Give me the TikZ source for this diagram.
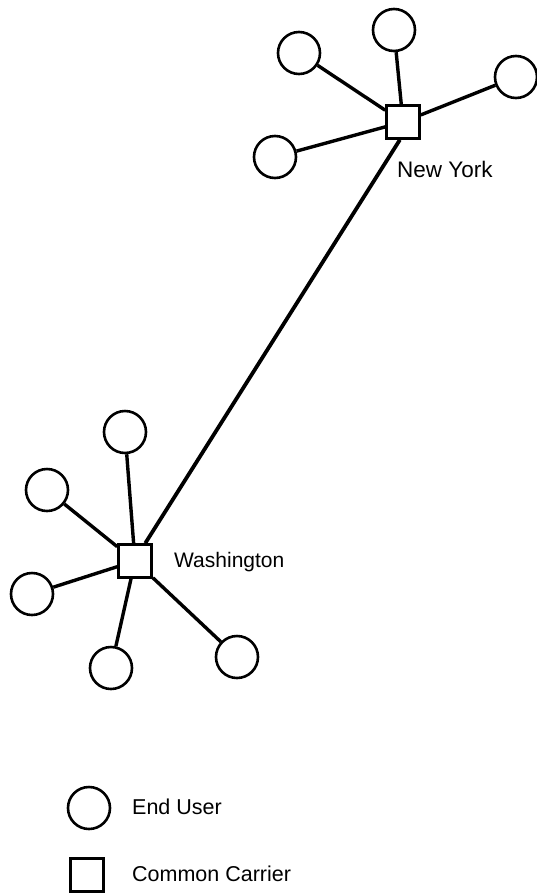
\documentclass[tikz,border=0pt]{standalone}
\usepackage{fontspec}
\setmainfont{Liberation Sans}
\begin{document}
\begin{tikzpicture}[x=1pt,y=-1pt,
  user/.style={circle,draw,line width=2.6pt,minimum size=42pt,inner sep=0pt},
  carrier/.style={rectangle,draw,line width=2.6pt,minimum size=33pt,inner sep=0pt},
  spoke/.style={line width=3.4pt},
  trunk/.style={line width=3.8pt},
  lbl/.style={font=\fontsize{21.5}{24}\selectfont,inner sep=0pt,anchor=base west}]
\useasboundingbox (0,0) rectangle (537,895);
% New York
\node[carrier] (ny) at (403,122) {};
\node[user] (ny1) at (394,30) {};
\node[user] (ny2) at (299,53) {};
\node[user] (ny3) at (516,77) {};
\node[user] (ny4) at (275,157) {};
\node[lbl,font=\fontsize{22.5}{25}\selectfont] (nyl) at (397,177) {New York};
% Washington
\node[carrier] (wa) at (135,561) {};
\node[user] (wa1) at (125,432) {};
\node[user] (wa2) at (47,490) {};
\node[user] (wa3) at (32,594) {};
\node[user] (wa4) at (111,668) {};
\node[user] (wa5) at (237,657) {};
\node[lbl,font=\fontsize{21}{24}\selectfont] (wal) at (174,567) {Washington};
% spokes
\foreach \u in {ny1,ny2,ny3,ny4} \draw[spoke] (\u) -- (ny);
\foreach \u in {wa1,wa2,wa3,wa4,wa5} \draw[spoke] (\u) -- (wa);
% trunk
\draw[trunk] (ny.-100) -- (wa.60);
% legend
\node[user] (lu) at (89,808) {};
\node[lbl] (lut) at (132,814) {End User};
\node[carrier] (lc) at (87,875) {};
\node[lbl] (lct) at (132,881) {Common Carrier};
\end{tikzpicture}
\end{document}
